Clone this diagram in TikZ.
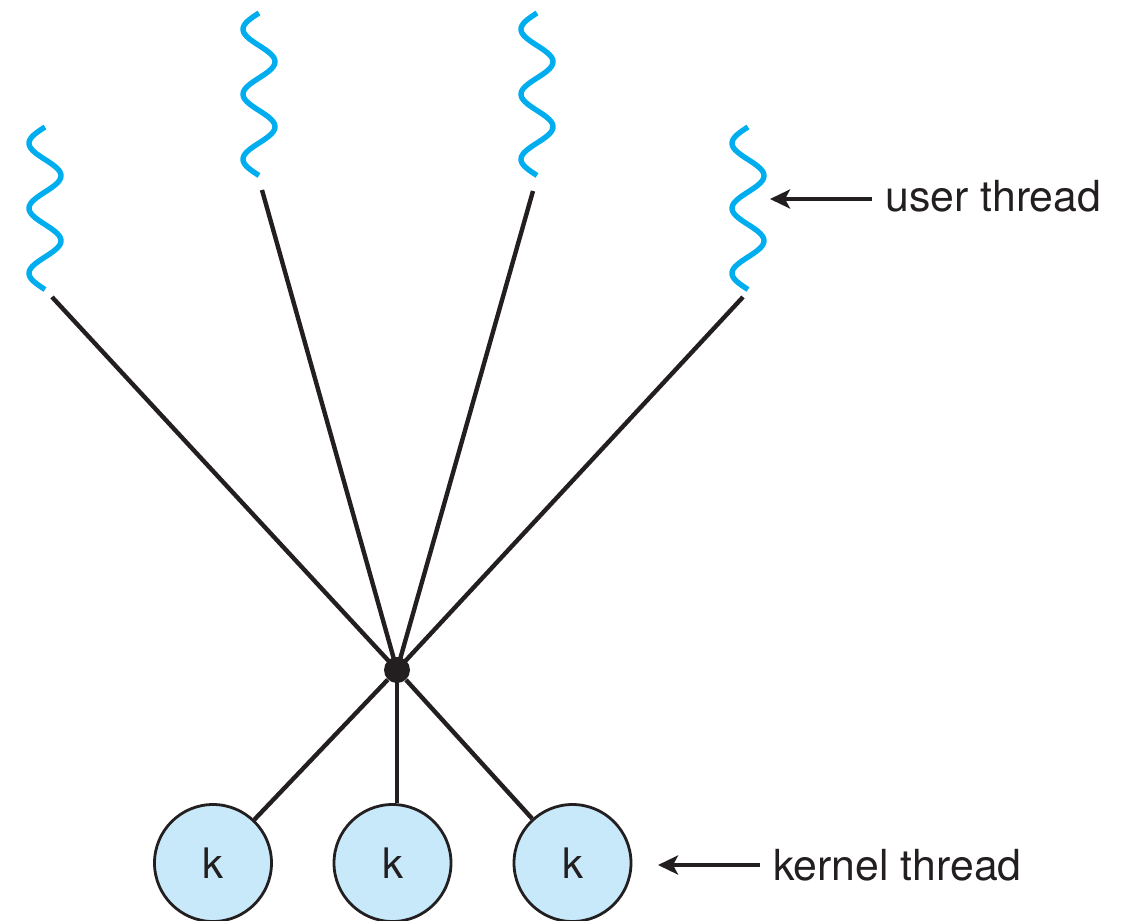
\documentclass[tikz,border=0pt]{standalone}
\usepackage{fontspec}
\setmainfont{TeX Gyre Heros}
\usetikzlibrary{arrows.meta}
\definecolor{wavec}{HTML}{00AEEF}
\definecolor{kfill}{HTML}{C8E9F9}
\definecolor{ink}{HTML}{231F20}
\begin{document}
\begin{tikzpicture}[x=0.5pt,y=-0.5pt,
  wave/.style={draw=wavec, line width=2.7pt},
  link/.style={draw=ink, line width=2.2pt},
  kth/.style={circle, draw=ink, line width=1.4pt, fill=kfill, minimum size=58.5pt, inner sep=0pt, font=\fontsize{21}{25}\selectfont, text=ink},
  lbl/.style={anchor=base west, inner sep=0pt, font=\fontsize{21.4}{25}\selectfont, text=ink},
  arr/.style={draw=ink, line width=2.2pt, -{Stealth[length=10pt,width=9.5pt,inset=2.5pt]}},
  hubdot/.style={circle, fill=ink, minimum size=13pt, inner sep=0pt}]
\useasboundingbox (0,0) rectangle (1131,921);

% user threads (wavy lines)
\foreach \cx/\ty in {45/127, 259/13, 537/13, 748/127}
  \draw[wave] plot[domain=0:162.5, samples=100, smooth] ({\cx-16*sin(5.53846*\x)}, {\ty+\x});

% free ends of the links below the user threads
\coordinate (u1) at (52,297);
\coordinate (u2) at (262,190);
\coordinate (u3) at (533,191);
\coordinate (u4) at (743,297);

% hub
\node[hubdot] (hub) at (397,670) {};

% kernel threads
\node[kth] (k1) at (213,863) {k};
\node[kth] (k2) at (392.5,863) {k};
\node[kth] (k3) at (572.5,863) {k};

% links
\draw[link] (u1) -- (hub.center);
\draw[link] (u2) -- (hub.center);
\draw[link] (u3) -- (hub.center);
\draw[link] (u4) -- (hub.center);
\draw[link] (hub) -- (k1);
\draw[link] (hub.center) -- (hub.center |- k2.north);
\draw[link] (hub) -- (k3);

% labels
\node[lbl] (ut) at (885,211) {user thread};
\node[lbl] (kt) at (773,880) {kernel thread};
\coordinate (utail) at (872,199);
\coordinate (utip) at (770,199);
\coordinate (ktail) at (760,865);
\coordinate (ktip) at (658,865);
\draw[arr] (utail) -- (utip);
\draw[arr] (ktail) -- (ktip);
\end{tikzpicture}
\end{document}
